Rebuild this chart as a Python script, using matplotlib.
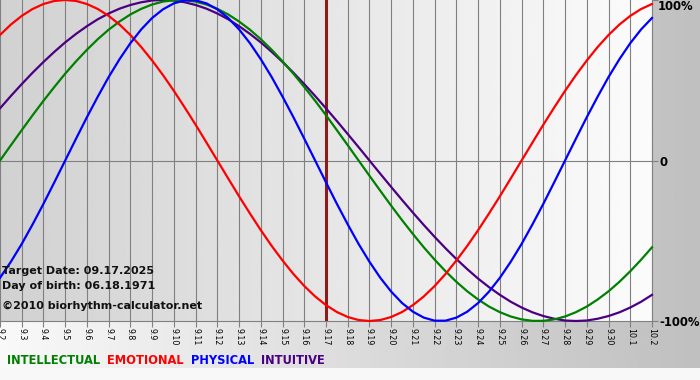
import numpy as np
import matplotlib
matplotlib.use("Agg")
import matplotlib.pyplot as plt
from matplotlib.offsetbox import TextArea, HPacker, AnchoredOffsetbox

W, H = 700, 380

# days shown on the x axis
days = ["9.2", "9.3", "9.4", "9.5", "9.6", "9.7", "9.8", "9.9", "9.10", "9.11",
        "9.12", "9.13", "9.14", "9.15", "9.16", "9.17", "9.18", "9.19", "9.20",
        "9.21", "9.22", "9.23", "9.24", "9.25", "9.26", "9.27", "9.28", "9.29",
        "9.30", "10.1", "10.2"]
target_day = "9.17"

# values every half day (-1 .. 1), 9.2 -> 10.2
physical = [-0.731, -0.631, -0.520, -0.398, -0.270, -0.136, 0.0, 0.136, 0.270, 0.398,
            0.520, 0.631, 0.731, 0.817, 0.888, 0.942, 0.979, 0.998, 0.998, 0.979,
            0.942, 0.888, 0.817, 0.731, 0.631, 0.520, 0.398, 0.270, 0.136, 0.0,
            -0.136, -0.270, -0.398, -0.520, -0.631, -0.731, -0.817, -0.888, -0.942,
            -0.979, -0.998, -0.998, -0.979, -0.942, -0.888, -0.817, -0.731, -0.631,
            -0.520, -0.398, -0.270, -0.136, 0.0, 0.136, 0.270, 0.398, 0.520, 0.631,
            0.731, 0.817, 0.888]
emotional = [0.782, 0.847, 0.901, 0.944, 0.975, 0.994, 1.0, 0.994, 0.975, 0.944,
             0.901, 0.847, 0.782, 0.707, 0.623, 0.532, 0.434, 0.330, 0.223, 0.112,
             0.0, -0.112, -0.223, -0.330, -0.434, -0.532, -0.623, -0.707, -0.782,
             -0.847, -0.901, -0.944, -0.975, -0.994, -1.0, -0.994, -0.975, -0.944,
             -0.901, -0.847, -0.782, -0.707, -0.623, -0.532, -0.434, -0.330, -0.223,
             -0.112, 0.0, 0.112, 0.223, 0.330, 0.434, 0.532, 0.623, 0.707, 0.782,
             0.847, 0.901, 0.944, 0.975]
intellectual = [0.0, 0.095, 0.189, 0.282, 0.372, 0.458, 0.541, 0.618, 0.690, 0.756,
                0.815, 0.866, 0.910, 0.945, 0.972, 0.990, 0.999, 0.999, 0.990, 0.972,
                0.945, 0.910, 0.866, 0.815, 0.756, 0.690, 0.618, 0.541, 0.458, 0.372,
                0.282, 0.189, 0.095, 0.0, -0.095, -0.189, -0.282, -0.372, -0.458,
                -0.541, -0.618, -0.690, -0.756, -0.815, -0.866, -0.910, -0.945,
                -0.972, -0.990, -0.999, -0.999, -0.990, -0.972, -0.945, -0.910,
                -0.866, -0.815, -0.756, -0.690, -0.618, -0.541]
intuitive = [0.325, 0.402, 0.476, 0.547, 0.614, 0.677, 0.736, 0.789, 0.837, 0.880,
             0.916, 0.946, 0.969, 0.986, 0.997, 1.0, 0.997, 0.986, 0.969, 0.946,
             0.916, 0.880, 0.837, 0.789, 0.736, 0.677, 0.614, 0.547, 0.476, 0.402,
             0.325, 0.246, 0.165, 0.083, 0.0, -0.083, -0.165, -0.246, -0.325, -0.402,
             -0.476, -0.547, -0.614, -0.677, -0.736, -0.789, -0.837, -0.880, -0.916,
             -0.946, -0.969, -0.986, -0.997, -1.0, -0.997, -0.986, -0.969, -0.946,
             -0.916, -0.880, -0.837]

series = [("INTUITIVE", intuitive, "#4b0082"),
          ("INTELLECTUAL", intellectual, "#008000"),
          ("EMOTIONAL", emotional, "#ff0000"),
          ("PHYSICAL", physical, "#0000ff")]
legend_order = ["INTELLECTUAL", "EMOTIONAL", "PHYSICAL", "INTUITIVE"]
colors = {name: c for name, _, c in series}

fig = plt.figure(figsize=(W / 100, H / 100), dpi=100)
fig.patch.set_facecolor("#f8f8f8")

# grey gradient behind everything
bg = fig.add_axes([0, 0, 1, 1], zorder=-10)
bg.axis("off")
grad = np.linspace(0.975, 0.75, 256)
bg.imshow(np.tile(grad, (2, 1)), cmap="gray", vmin=0, vmax=1, aspect="auto",
          extent=[0, 1, 12 / H, 1], interpolation="bilinear")
bg.set_xlim(0, 1)
bg.set_ylim(0, 1)

ax = fig.add_axes([0, 1 - 321 / H, 652 / W, 321 / H])
x = np.arange(len(days))
ax.imshow(np.tile(np.linspace(0.82, 0.985, 256), (2, 1)), cmap="gray", vmin=0, vmax=1,
          aspect="auto", extent=[0, len(days) - 1, -1, 1], zorder=0,
          interpolation="bilinear")
ax.set_xlim(0, len(days) - 1)
ax.set_ylim(-1, 1)

for i in x:
    ax.axvline(i, color="#808080", lw=0.8, zorder=1)
ax.axhline(0, color="#808080", lw=0.8, zorder=1)

for s in ["top", "left"]:
    ax.spines[s].set_visible(False)
for s in ["bottom", "right"]:
    ax.spines[s].set_color("#808080")
    ax.spines[s].set_linewidth(0.8)

ax.set_xticks(x)
ax.set_xticklabels(days, rotation=-90, fontsize=5.7)
ax.tick_params(axis="x", length=4, color="#808080", pad=1)
ax.yaxis.tick_right()
ax.set_yticks([-1, 0, 1])
ax.set_yticklabels(["-100%", "0", ""], fontsize=8.4, fontweight="bold")
ax.tick_params(axis="y", length=4, color="#808080", pad=1.2)
# top label sits a bit below the 100% line, as in the original
ax.annotate("100%", xy=(1, 1), xycoords="axes fraction", xytext=(4.1, -5),
            textcoords="offset points", va="center", ha="left", fontsize=8.4,
            fontweight="bold")

ax.axvline(days.index(target_day), color="#8b1c1c", lw=2.2, zorder=3)

t = np.arange(len(physical)) * 0.5
for name, vals, c in series:
    ax.plot(t, vals, color=c, lw=1.6, zorder=4, clip_on=False)

info = [("Target Date: 09.17.2025", 271), ("Day of birth: 06.18.1971", 286),
        ("\u00a92010 biorhythm-calculator.net", 306)]
for txt, yp in info:
    fig.text(2 / W, 1 - yp / H, txt, fontsize=8, fontweight="bold", va="center",
             color="#111111")

boxes = [TextArea(n, textprops=dict(color=colors[n], fontsize=8.3, fontweight="bold"))
         for n in legend_order]
pack = HPacker(children=boxes, align="center", pad=0, sep=5)
leg = AnchoredOffsetbox(loc="center left", child=pack, pad=0, borderpad=0,
                        frameon=False, bbox_to_anchor=(7 / W, 1 - 361 / H),
                        bbox_transform=fig.transFigure)
fig.add_artist(leg)

fig.savefig("out.png", dpi=100)
